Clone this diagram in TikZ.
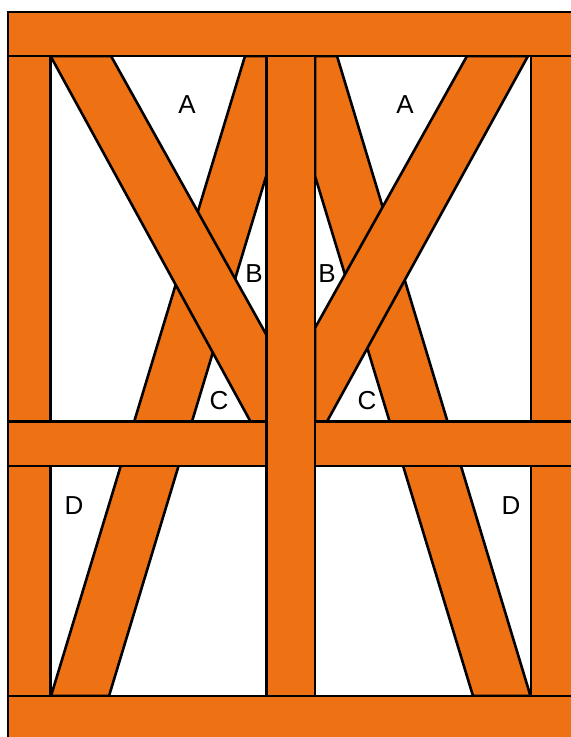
\documentclass[tikz,border=0pt]{standalone}
\usepackage{fontspec}
\setmainfont{Liberation Sans}
\usepackage{xcolor}
\definecolor{timber}{HTML}{EE7114}
\tikzset{
  beam/.style={fill=timber, draw=black, line width=1.3pt, line join=miter},
  letter/.style={font=\fontsize{13}{15}\selectfont, inner sep=0pt}
}

\begin{document}
\begin{tikzpicture}[x=0.5pt, y=-0.5pt]
  \useasboundingbox (0,0) rectangle (571,737);
  \clip (0,0) rectangle (571,737);
  % left braces
  \draw[beam] (51,696) -- (245,56) -- (266.5,56) -- (266.5,175) -- (109,696) -- cycle;
  \draw[beam] (50.5,56) -- (111,56) -- (266.5,335) -- (266.5,421.5) -- (250.5,421.5) -- cycle;
  % right braces
  \draw[beam] (530.5,696) -- (337,56) -- (315,56) -- (315,176) -- (473,696) -- cycle;
  \draw[beam] (528,56) -- (467,56) -- (315,328) -- (315,421.5) -- (327,421.5) -- cycle;
  % posts and beams
  \draw[beam] (8,56) rectangle (50.5,696);
  \draw[beam] (531,56) rectangle (590,696);
  \draw[beam] (8,421.5) rectangle (266.5,466);
  \draw[beam] (315,421.5) rectangle (590,466);
  \draw[beam] (266.5,56) rectangle (315,696);
  \draw[beam] (8,12) rectangle (590,56);
  \draw[beam] (8,696) rectangle (590,760);
  % labels
  \node[letter] (aleft) at (187,105) {A};
  \node[letter] (aright) at (405,105) {A};
  \node[letter] (bleft) at (254,273.5) {B};
  \node[letter] (bright) at (327,273.5) {B};
  \node[letter] (cleft) at (219,401) {C};
  \node[letter] (cright) at (367,401) {C};
  \node[letter] (dleft) at (74,505.5) {D};
  \node[letter] (dright) at (511,505.5) {D};
\end{tikzpicture}
\end{document}
